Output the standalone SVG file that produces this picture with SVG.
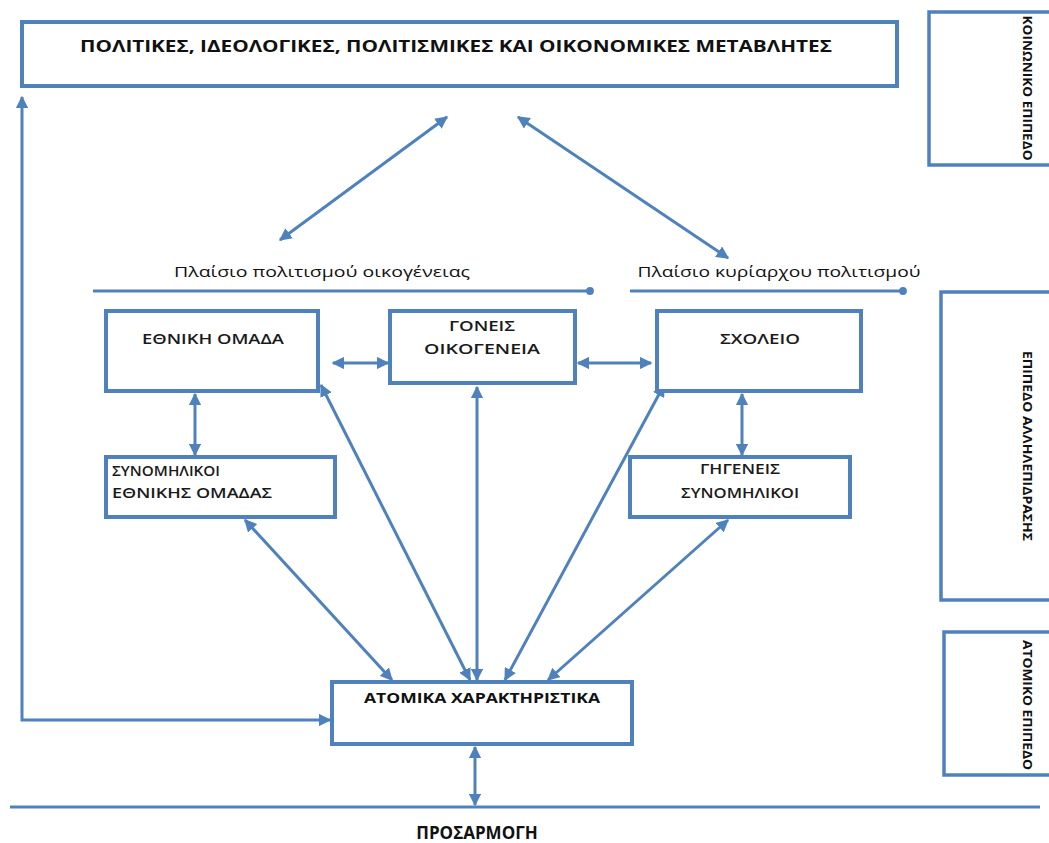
<svg xmlns="http://www.w3.org/2000/svg" width="1049" height="843" viewBox="0 0 1049 843">
<style>
.box{fill:#fff;stroke:#4f81bd;stroke-width:4}
.lvl{fill:#fff;stroke:#4f81bd;stroke-width:3.5}
.t{font-family:"Open Sans","Liberation Sans",sans-serif;font-weight:600;font-size:14.5px;fill:#1a1a1a}
.tb{font-family:"Open Sans","Liberation Sans",sans-serif;font-weight:700;fill:#111}
.tr{font-family:"Open Sans","Liberation Sans",sans-serif;font-size:14px;fill:#111}
.c{stroke:#4f81bd;stroke-width:3;fill:none}
.a{marker-start:url(#ah);marker-end:url(#ah)}
</style>
<defs>
<marker id="ah" viewBox="0 0 10 10" refX="9" refY="5" markerWidth="4.2" markerHeight="4.2" orient="auto-start-reverse" markerUnits="strokeWidth">
<path d="M0,0 L10,5 L0,10 z" fill="#4f81bd"/>
</marker>
<marker id="dot" viewBox="0 0 10 10" refX="5" refY="5" markerWidth="2.6" markerHeight="2.6" markerUnits="strokeWidth">
<circle cx="5" cy="5" r="5" fill="#4f81bd"/>
</marker>
</defs>
<rect width="1049" height="843" fill="#fff"/>

<g id="level-social">
<rect class="lvl" x="929" y="12" width="130" height="153"/>
<text class="tb" font-size="13" transform="translate(1023,88) rotate(90)" text-anchor="middle" textLength="145" lengthAdjust="spacingAndGlyphs">ΚΟΙΝΩΝΙΚΟ ΕΠΙΠΕΔΟ</text>
</g>
<g id="level-interaction">
<rect class="lvl" x="941" y="292" width="120" height="308"/>
<text class="tb" font-size="13" transform="translate(1023,446) rotate(90)" text-anchor="middle" textLength="190" lengthAdjust="spacingAndGlyphs">ΕΠΙΠΕΔΟ ΑΛΛΗΛΕΠΙΔΡΑΣΗΣ</text>
</g>
<g id="level-individual">
<rect class="lvl" x="944" y="632" width="120" height="143"/>
<text class="tb" font-size="13" transform="translate(1023,705) rotate(90)" text-anchor="middle" textLength="130" lengthAdjust="spacingAndGlyphs">ΑΤΟΜΙΚΟ ΕΠΙΠΕΔΟ</text>
</g>

<g id="connectors">
<line class="c" x1="10" y1="807" x2="1040" y2="807" stroke-width="4"/>
<line class="c" x1="93" y1="291" x2="590" y2="291" marker-end="url(#dot)"/>
<line class="c" x1="630" y1="291" x2="903" y2="291" marker-end="url(#dot)"/>
<line class="c a" x1="447" y1="117" x2="280" y2="240"/>
<line class="c a" x1="518" y1="117" x2="728" y2="258"/>
<line class="c a" x1="333" y1="363" x2="388" y2="363"/>
<line class="c a" x1="578" y1="363" x2="651" y2="363"/>
<line class="c a" x1="195" y1="394" x2="195" y2="455"/>
<line class="c a" x1="742" y1="394" x2="742" y2="455"/>
<line class="c a" x1="321" y1="385" x2="470" y2="680"/>
<line class="c a" x1="477" y1="387" x2="477" y2="680"/>
<line class="c a" x1="664" y1="385" x2="505" y2="680"/>
<line class="c a" x1="245" y1="520" x2="392" y2="680"/>
<line class="c a" x1="728" y1="520" x2="548" y2="680"/>
<path class="c a" d="M22,97 L22,720 L330,720"/>
<line class="c a" x1="475" y1="747" x2="475" y2="805"/>
</g>

<g id="variables">
<rect class="box" x="22" y="22" width="875" height="64"/>
<text class="tb" font-size="16" x="456" y="52" text-anchor="middle" textLength="752" lengthAdjust="spacingAndGlyphs">ΠΟΛΙΤΙΚΕΣ, ΙΔΕΟΛΟΓΙΚΕΣ, ΠΟΛΙΤΙΣΜΙΚΕΣ ΚΑΙ ΟΙΚΟΝΟΜΙΚΕΣ ΜΕΤΑΒΛΗΤΕΣ</text>
</g>

<g id="label-family-culture">
<text class="tr" x="322" y="277" text-anchor="middle" textLength="296" lengthAdjust="spacingAndGlyphs">Πλαίσιο πολιτισμού οικογένειας</text>
</g>
<g id="label-dominant-culture">
<text class="tr" x="779" y="277" text-anchor="middle" textLength="283" lengthAdjust="spacingAndGlyphs">Πλαίσιο κυρίαρχου πολιτισμού</text>
</g>

<g id="ethnic-group">
<rect class="box" x="106" y="311" width="212" height="80"/>
<text class="t" x="213" y="344" text-anchor="middle" textLength="142" lengthAdjust="spacingAndGlyphs">ΕΘΝΙΚΗ ΟΜΑΔΑ</text>
</g>
<g id="parents-family">
<rect class="box" x="390" y="311" width="185" height="72"/>
<text class="t" x="482" y="331" text-anchor="middle" textLength="66" lengthAdjust="spacingAndGlyphs">ΓΟΝΕΙΣ</text>
<text class="t" x="482" y="354" text-anchor="middle" textLength="116" lengthAdjust="spacingAndGlyphs">ΟΙΚΟΓΕΝΕΙΑ</text>
</g>
<g id="school">
<rect class="box" x="657" y="311" width="204" height="80"/>
<text class="t" x="760" y="344" text-anchor="middle" textLength="80" lengthAdjust="spacingAndGlyphs">ΣΧΟΛΕΙΟ</text>
</g>
<g id="ethnic-peers">
<rect class="box" x="106" y="457" width="229" height="60"/>
<text class="t" x="112" y="476" textLength="108" lengthAdjust="spacingAndGlyphs">ΣΥΝΟΜΗΛΙΚΟΙ</text>
<text class="t" x="112" y="498" textLength="160" lengthAdjust="spacingAndGlyphs">ΕΘΝΙΚΗΣ ΟΜΑΔΑΣ</text>
</g>
<g id="native-peers">
<rect class="box" x="630" y="457" width="220" height="60"/>
<text class="t" x="740" y="474" text-anchor="middle" textLength="80" lengthAdjust="spacingAndGlyphs">ΓΗΓΕΝΕΙΣ</text>
<text class="t" x="740" y="498" text-anchor="middle" textLength="118" lengthAdjust="spacingAndGlyphs">ΣΥΝΟΜΗΛΙΚΟΙ</text>
</g>
<g id="individual">
<rect class="box" x="332" y="682" width="300" height="62"/>
<text class="tb" font-size="15" x="482" y="703" text-anchor="middle" textLength="236" lengthAdjust="spacingAndGlyphs">ΑΤΟΜΙΚΑ ΧΑΡΑΚΤΗΡΙΣΤΙΚΑ</text>
</g>
<g id="adaptation">
<text class="tb" font-size="17" x="477" y="839" text-anchor="middle">ΠΡΟΣΑΡΜΟΓΗ</text>
</g>
</svg>
